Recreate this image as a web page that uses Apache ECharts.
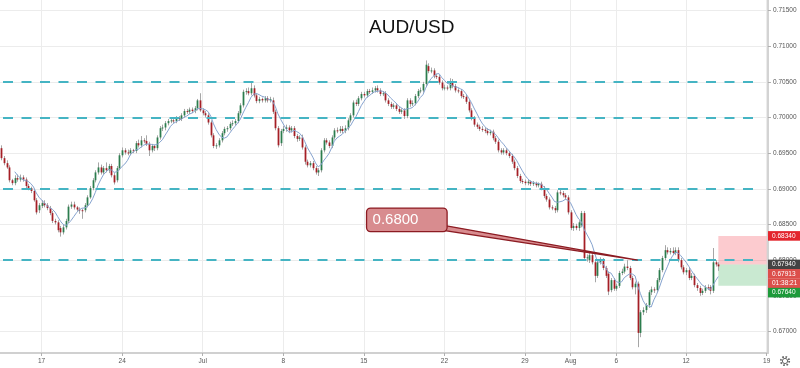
<!DOCTYPE html>
<html><head><meta charset="utf-8">
<script src="https://cdn.jsdelivr.net/npm/echarts@6/dist/echarts.min.js"></script>
<style>html,body{margin:0;padding:0;background:#fff}#c{width:800px;height:368px}</style>
</head><body><div id="c"></div>
<script>
// ---- AUD/USD 4H candles ----
const open = [
0.6957,0.6943,0.6936,0.6930,0.6912,0.6908,0.6915,0.6913,0.6916,0.6913,
0.6904,0.6901,0.6897,0.6884,0.6870,0.6876,0.6880,0.6877,0.6873,0.6866,
0.6855,0.6853,0.6845,0.6839,0.6846,0.6855,0.6875,0.6878,0.6874,0.6871,
0.6870,0.6870,0.6877,0.6888,0.6901,0.6912,0.6923,0.6930,0.6923,0.6929,
0.6926,0.6932,0.6919,0.6912,0.6929,0.6947,0.6954,0.6951,0.6950,0.6954,
0.6953,0.6964,0.6961,0.6968,0.6967,0.6963,0.6954,0.6960,0.6957,0.6972,
0.6985,0.6986,0.6992,0.6995,0.6996,0.6995,0.6999,0.6998,0.7003,0.7009,
0.7008,0.7011,0.7009,0.7013,0.7024,0.7010,0.7006,0.7003,0.6993,0.6975,
0.6960,0.6961,0.6968,0.6978,0.6984,0.6985,0.6991,0.6992,0.6995,0.7006,
0.7017,0.7036,0.7037,0.7034,0.7041,0.7031,0.7023,0.7026,0.7024,0.7027,
0.7024,0.7024,0.7008,0.6985,0.6964,0.6981,0.6984,0.6986,0.6982,0.6985,
0.6974,0.6970,0.6972,0.6958,0.6938,0.6933,0.6936,0.6929,0.6923,0.6926,
0.6954,0.6968,0.6965,0.6960,0.6972,0.6982,0.6981,0.6984,0.6981,0.6985,
0.6996,0.7003,0.7021,0.7019,0.7027,0.7033,0.7031,0.7037,0.7036,0.7038,
0.7041,0.7038,0.7033,0.7034,0.7024,0.7019,0.7015,0.7017,0.7012,0.7008,
0.7010,0.7002,0.7024,0.7019,0.7020,0.7030,0.7037,0.7038,0.7047,0.7072,
0.7065,0.7066,0.7058,0.7057,0.7049,0.7041,0.7042,0.7041,0.7051,0.7044,
0.7038,0.7037,0.7030,0.7029,0.7022,0.7010,0.6999,0.6990,0.6987,0.6984,
0.6983,0.6981,0.6978,0.6980,0.6971,0.6966,0.6954,0.6951,0.6954,0.6950,
0.6946,0.6938,0.6929,0.6918,0.6911,0.6910,0.6908,0.6910,0.6907,0.6908,
0.6905,0.6907,0.6901,0.6890,0.6885,0.6874,0.6873,0.6870,0.6895,0.6894,
0.6891,0.6888,0.6867,0.6845,0.6848,0.6845,0.6849,0.6866,0.6803,0.6800,
0.6807,0.6797,0.6778,0.6797,0.6800,0.6789,0.6781,0.6758,0.6772,0.6760,
0.6764,0.6782,0.6784,0.6791,0.6789,0.6775,0.6762,0.6767,0.6698,0.6727,
0.6730,0.6737,0.6755,0.6759,0.6758,0.6772,0.6786,0.6803,0.6814,0.6811,
0.6813,0.6810,0.6814,0.6800,0.6790,0.6783,0.6786,0.6775,0.6778,0.6765,
0.6761,0.6754,0.6757,0.6762,0.6762,0.6757,0.6797,0.6794];
const high = [
0.6961,0.6946,0.6940,0.6933,0.6914,0.6919,0.6920,0.6920,0.6919,0.6916,
0.6907,0.6903,0.6900,0.6887,0.6880,0.6884,0.6884,0.6880,0.6876,0.6869,
0.6858,0.6856,0.6848,0.6850,0.6858,0.6878,0.6882,0.6882,0.6876,0.6874,
0.6872,0.6880,0.6891,0.6904,0.6915,0.6926,0.6937,0.6934,0.6932,0.6937,
0.6935,0.6935,0.6922,0.6932,0.6950,0.6958,0.6957,0.6955,0.6957,0.6956,
0.6967,0.6969,0.6974,0.6971,0.6975,0.6966,0.6963,0.6962,0.6975,0.6988,
0.6990,0.6995,0.6998,0.6999,0.6999,0.7002,0.7002,0.7006,0.7012,0.7012,
0.7014,0.7014,0.7016,0.7026,0.7034,0.7013,0.7009,0.7006,0.6996,0.6978,
0.6964,0.6971,0.6981,0.6987,0.6988,0.6994,0.6996,0.6998,0.7009,0.7020,
0.7039,0.7041,0.7042,0.7050,0.7045,0.7034,0.7029,0.7028,0.7030,0.7030,
0.7029,0.7028,0.7011,0.6988,0.6984,0.6988,0.6990,0.6989,0.6988,0.6988,
0.6977,0.6975,0.6976,0.6961,0.6941,0.6939,0.6939,0.6932,0.6929,0.6957,
0.6971,0.6971,0.6968,0.6975,0.6985,0.6986,0.6988,0.6988,0.6989,0.6999,
0.7006,0.7024,0.7025,0.7030,0.7036,0.7036,0.7040,0.7040,0.7042,0.7044,
0.7045,0.7041,0.7037,0.7037,0.7027,0.7022,0.7020,0.7020,0.7015,0.7013,
0.7013,0.7027,0.7027,0.7024,0.7033,0.7040,0.7042,0.7050,0.7080,0.7076,
0.7070,0.7069,0.7061,0.7060,0.7052,0.7046,0.7045,0.7055,0.7054,0.7047,
0.7041,0.7040,0.7033,0.7032,0.7025,0.7013,0.7002,0.6993,0.6990,0.6988,
0.6986,0.6985,0.6983,0.6983,0.6974,0.6969,0.6957,0.6957,0.6957,0.6953,
0.6949,0.6941,0.6932,0.6921,0.6914,0.6913,0.6913,0.6912,0.6911,0.6910,
0.6909,0.6910,0.6904,0.6893,0.6888,0.6877,0.6876,0.6898,0.6899,0.6897,
0.6894,0.6891,0.6870,0.6852,0.6851,0.6856,0.6869,0.6869,0.6808,0.6811,
0.6810,0.6800,0.6800,0.6804,0.6803,0.6792,0.6784,0.6775,0.6775,0.6767,
0.6785,0.6788,0.6795,0.6800,0.6792,0.6778,0.6770,0.6770,0.6730,0.6734,
0.6740,0.6758,0.6763,0.6762,0.6775,0.6789,0.6806,0.6821,0.6818,0.6817,
0.6818,0.6818,0.6818,0.6803,0.6793,0.6789,0.6789,0.6782,0.6781,0.6768,
0.6764,0.6760,0.6765,0.6766,0.6765,0.6817,0.6800,0.6797];
const low = [
0.6940,0.6933,0.6928,0.6909,0.6905,0.6905,0.6910,0.6910,0.6910,0.6901,
0.6898,0.6894,0.6882,0.6864,0.6866,0.6873,0.6874,0.6870,0.6863,0.6852,
0.6850,0.6839,0.6833,0.6836,0.6843,0.6852,0.6872,0.6871,0.6868,0.6865,
0.6858,0.6867,0.6874,0.6886,0.6898,0.6909,0.6920,0.6920,0.6920,0.6923,
0.6922,0.6916,0.6906,0.6909,0.6926,0.6944,0.6948,0.6947,0.6947,0.6950,
0.6950,0.6958,0.6958,0.6964,0.6960,0.6946,0.6951,0.6953,0.6954,0.6969,
0.6981,0.6982,0.6989,0.6992,0.6992,0.6992,0.6995,0.6995,0.7000,0.7005,
0.7005,0.7006,0.7006,0.7010,0.7008,0.7003,0.7000,0.6990,0.6972,0.6957,
0.6956,0.6958,0.6965,0.6975,0.6980,0.6982,0.6988,0.6989,0.6992,0.7003,
0.7014,0.7032,0.7031,0.7031,0.7028,0.7020,0.7020,0.7021,0.7021,0.7021,
0.7021,0.7005,0.6982,0.6958,0.6960,0.6978,0.6980,0.6978,0.6979,0.6971,
0.6966,0.6967,0.6955,0.6934,0.6930,0.6930,0.6926,0.6920,0.6918,0.6923,
0.6951,0.6962,0.6957,0.6957,0.6969,0.6978,0.6978,0.6978,0.6978,0.6982,
0.6993,0.7000,0.7016,0.7016,0.7024,0.7028,0.7028,0.7033,0.7033,0.7035,
0.7035,0.7030,0.7030,0.7021,0.7016,0.7012,0.7012,0.7009,0.7005,0.7005,
0.6998,0.6999,0.7015,0.7016,0.7017,0.7027,0.7034,0.7035,0.7044,0.7062,
0.7062,0.7055,0.7054,0.7046,0.7038,0.7038,0.7038,0.7038,0.7041,0.7035,
0.7034,0.7027,0.7026,0.7019,0.7007,0.6996,0.6987,0.6984,0.6981,0.6980,
0.6978,0.6975,0.6975,0.6968,0.6963,0.6951,0.6948,0.6948,0.6947,0.6943,
0.6935,0.6926,0.6915,0.6908,0.6907,0.6905,0.6905,0.6904,0.6904,0.6902,
0.6902,0.6898,0.6887,0.6882,0.6871,0.6870,0.6866,0.6867,0.6891,0.6888,
0.6885,0.6864,0.6842,0.6841,0.6842,0.6841,0.6846,0.6800,0.6798,0.6796,
0.6794,0.6769,0.6775,0.6794,0.6786,0.6775,0.6751,0.6755,0.6757,0.6757,
0.6761,0.6779,0.6781,0.6786,0.6772,0.6759,0.6752,0.6678,0.6692,0.6723,
0.6726,0.6733,0.6751,0.6754,0.6755,0.6769,0.6783,0.6800,0.6808,0.6808,
0.6807,0.6807,0.6797,0.6787,0.6780,0.6779,0.6772,0.6772,0.6762,0.6757,
0.6750,0.6751,0.6754,0.6758,0.6752,0.6754,0.6791,0.6785];
const close = [
0.6943,0.6936,0.6930,0.6912,0.6908,0.6915,0.6913,0.6916,0.6913,0.6904,
0.6901,0.6897,0.6884,0.6867,0.6877,0.6880,0.6877,0.6873,0.6866,0.6855,
0.6853,0.6842,0.6839,0.6846,0.6855,0.6875,0.6878,0.6874,0.6871,0.6870,
0.6869,0.6877,0.6888,0.6901,0.6912,0.6923,0.6930,0.6923,0.6929,0.6926,
0.6932,0.6919,0.6909,0.6929,0.6947,0.6954,0.6951,0.6950,0.6954,0.6953,
0.6964,0.6961,0.6968,0.6967,0.6963,0.6954,0.6960,0.6957,0.6972,0.6985,
0.6986,0.6992,0.6995,0.6996,0.6995,0.6999,0.6998,0.7003,0.7009,0.7008,
0.7011,0.7009,0.7013,0.7024,0.7010,0.7006,0.7003,0.6993,0.6975,0.6960,
0.6961,0.6968,0.6978,0.6984,0.6985,0.6991,0.6992,0.6995,0.7006,0.7017,
0.7036,0.7037,0.7034,0.7041,0.7031,0.7023,0.7026,0.7024,0.7027,0.7024,
0.7026,0.7008,0.6985,0.6961,0.6981,0.6984,0.6986,0.6982,0.6985,0.6974,
0.6970,0.6972,0.6958,0.6938,0.6933,0.6936,0.6929,0.6923,0.6926,0.6954,
0.6968,0.6965,0.6960,0.6972,0.6982,0.6981,0.6984,0.6981,0.6985,0.6996,
0.7003,0.7021,0.7019,0.7027,0.7033,0.7031,0.7037,0.7036,0.7038,0.7041,
0.7038,0.7033,0.7034,0.7024,0.7019,0.7015,0.7017,0.7012,0.7008,0.7010,
0.7002,0.7024,0.7019,0.7020,0.7030,0.7037,0.7038,0.7047,0.7074,0.7065,
0.7066,0.7058,0.7057,0.7049,0.7041,0.7042,0.7041,0.7051,0.7044,0.7038,
0.7037,0.7030,0.7029,0.7022,0.7010,0.6999,0.6990,0.6987,0.6984,0.6983,
0.6981,0.6978,0.6980,0.6971,0.6966,0.6954,0.6951,0.6954,0.6950,0.6946,
0.6938,0.6929,0.6918,0.6911,0.6910,0.6908,0.6910,0.6907,0.6908,0.6905,
0.6907,0.6901,0.6890,0.6885,0.6874,0.6873,0.6870,0.6895,0.6894,0.6891,
0.6888,0.6867,0.6845,0.6848,0.6845,0.6853,0.6866,0.6803,0.6804,0.6807,
0.6797,0.6778,0.6797,0.6800,0.6789,0.6778,0.6756,0.6772,0.6760,0.6764,
0.6782,0.6784,0.6791,0.6789,0.6775,0.6762,0.6767,0.6698,0.6727,0.6730,
0.6737,0.6755,0.6759,0.6758,0.6772,0.6786,0.6803,0.6814,0.6811,0.6813,
0.6810,0.6814,0.6800,0.6790,0.6783,0.6786,0.6775,0.6778,0.6765,0.6761,
0.6754,0.6757,0.6762,0.6761,0.6757,0.6797,0.6794,0.67913];

// x-axis ticks (category index of the bar where each label sits) and their labels
const tickIndex  = [15, 45, 75, 105, 135, 165, 195, 212, 229, 255, 285];
const tickLabels = ['17', '24', 'Jul', '8', '15', '22', '29', 'Aug', '6', '12', '19'];
// horizontal levels drawn on the chart
const levels = [0.705, 0.700, 0.690, 0.680];
// short position tool
const posStop = 0.6834, posEntry = 0.6794, posTarget = 0.6764, posStartBar = 267;
const lastPrice = 0.67913, countdown = '01:38:21';
// callout annotation
const calloutText = '0.6800', calloutAnchorBar = 237, calloutAnchorPrice = 0.6800;
const calloutBoxBars = [136, 166], calloutBoxPrices = [0.6873, 0.6840];
const maPeriod = 6;

// 4-hour bar timestamps (weekdays only), Jun 12 2019 12:00 -> Aug 19 2019
const categories = [];
(function () {
  let t = Date.UTC(2019, 5, 12, 12);
  while (categories.length < 286) {
    const d = new Date(t), wd = d.getUTCDay();
    if (wd !== 0 && wd !== 6) categories.push(d.toISOString().slice(0, 13).replace('T', ' ') + ':00');
    t += 4 * 3600e3;
  }
})();

const candleData = open.map((o, i) => [i, o, close[i], low[i], high[i]]);
const ma = close.map((c, i) => i < maPeriod - 1 ? null :
  close.slice(i - maPeriod + 1, i + 1).reduce((a, b) => a + b, 0) / maPeriod);

const tickSet = new Set(tickIndex);
const isTick = (idx) => tickSet.has(idx);

const FONT = 'Liberation Sans, Arial, sans-serif';
const chart = echarts.init(document.getElementById('c'));

function renderCandle(params, api) {
  const i = api.value(0), o = api.value(1), c = api.value(2), l = api.value(3), h = api.value(4);
  const pO = api.coord([i, o]), pC = api.coord([i, c]);
  const pL = api.coord([i, l]), pH = api.coord([i, h]);
  const w = api.size([1, 0])[0] * 0.66;
  const x = Math.round(pO[0]) + 0.5;
  const up = c >= o;
  const top = Math.min(pO[1], pC[1]);
  const bh = Math.max(Math.abs(pO[1] - pC[1]), 1);
  return {
    type: 'group',
    children: [
      { type: 'line', shape: { x1: x, y1: pH[1], x2: x, y2: pL[1] },
        style: { stroke: '#a6a6a6', lineWidth: 1 } },
      { type: 'rect', shape: { x: x - w / 2, y: top, width: w, height: bh },
        style: { fill: up ? '#2c7d4e' : '#a51f26' } }
    ]
  };
}

chart.setOption({
  animation: false,
  backgroundColor: '#ffffff',
  title: {
    text: 'AUD/USD', left: 364, top: 13,
    textStyle: { fontSize: 19, fontWeight: 'normal', color: '#111', fontFamily: FONT }
  },
  grid: { left: 0, right: 32, top: 0, bottom: 15 },
  xAxis: {
    type: 'category', data: categories, boundaryGap: true,
    axisLine: { lineStyle: { color: '#d0d0d0', width: 2 } },
    axisTick: { show: true, alignWithLabel: true, interval: isTick, length: 3,
      lineStyle: { color: '#b0b0b0' } },
    axisLabel: { interval: isTick, margin: 5, fontSize: 6.5, color: '#555', fontFamily: FONT,
      formatter: (v, idx) => tickLabels[tickIndex.indexOf(idx)] || '' },
    splitLine: { show: true, interval: isTick, alignWithLabel: true,
      lineStyle: { color: '#ececec', width: 1 } }
  },
  yAxis: {
    type: 'value', position: 'right', scale: true,
    min: 0.666984, max: 0.716472, splitNumber: 10, minInterval: 0.005, maxInterval: 0.005,
    axisLine: { show: true, lineStyle: { color: '#c4c4c4', width: 1.5 } },
    axisTick: { show: true, length: 3, lineStyle: { color: '#b0b0b0' } },
    axisLabel: { margin: 5, fontSize: 6.5, color: '#555', fontFamily: FONT,
      showMinLabel: false, showMaxLabel: false, formatter: v => v.toFixed(5) },
    splitLine: { show: true, showMinLine: false, showMaxLine: false,
      lineStyle: { color: '#ececec', width: 1 } }
  },
  series: [
    {
      type: 'custom', name: 'AUD/USD', renderItem: renderCandle, data: candleData,
      encode: { x: 0, y: [1, 2, 3, 4] }, z: 3
    },
    {
      type: 'line', name: 'MA', data: ma, showSymbol: false, silent: true, z: 4,
      lineStyle: { color: '#86a3cf', width: 1 },
      markLine: {
        silent: true, symbol: ['none', 'none'], label: { show: false },
        lineStyle: { color: '#45b4c3', type: [10, 8.5], width: 1.8 },
        data: levels.map(v => [{ x: 3, yAxis: v }, { x: 758, yAxis: v }])
      },
      markArea: {
        silent: true,
        data: [
          [{ xAxis: categories[posStartBar], yAxis: posStop, itemStyle: { color: 'rgba(242,54,69,0.26)' } },
           { xAxis: categories[285], yAxis: posEntry }],
          [{ xAxis: categories[posStartBar], yAxis: posEntry, itemStyle: { color: 'rgba(8,153,46,0.22)' } },
           { xAxis: categories[285], yAxis: posTarget }]
        ]
      }
    }
  ]
});

// ---- overlays positioned through the chart's own scales ----
const toPx = (bar, price) => chart.convertToPixel({ xAxisIndex: 0, yAxisIndex: 0 }, [categories[bar], price]);
const gridRight = 768;
const g = [];

// callout
const tl = toPx(calloutBoxBars[0], calloutBoxPrices[0]);
const br = toPx(calloutBoxBars[1], calloutBoxPrices[1]);
const tip = toPx(calloutAnchorBar, calloutAnchorPrice);
g.push({ type: 'polygon', z: 50,
  shape: { points: [[br[0] - 2, br[1] - 6], tip, [br[0] - 2, br[1] - 1]] },
  style: { fill: '#d88c8f', stroke: '#8c1b22', lineWidth: 1.2 } });
g.push({ type: 'rect', z: 51,
  shape: { x: tl[0], y: tl[1], width: br[0] - tl[0], height: br[1] - tl[1], r: 4 },
  style: { fill: '#d88c8f', stroke: '#8c1b22', lineWidth: 1.3 } });
g.push({ type: 'text', z: 52, x: tl[0] + 6, y: (tl[1] + br[1]) / 2,
  style: { text: calloutText, fill: '#ffffff', fontSize: 15, fontFamily: FONT, verticalAlign: 'middle' } });

// right-side price labels
const yPx = p => chart.convertToPixel({ yAxisIndex: 0 }, p);
const tags = [
  { y: yPx(posStop), text: posStop.toFixed(5), bg: '#e3252d' },
  { y: yPx(posEntry), text: posEntry.toFixed(5), bg: '#434343' },
  { y: yPx(lastPrice), text: lastPrice.toFixed(5), bg: '#dc4f4b' },
  { y: null, text: countdown, bg: '#dc4f4b' },
  { y: yPx(posTarget), text: posTarget.toFixed(5), bg: '#1d9a3a' }
];
let prev = -1e9;
tags.forEach(t => {
  let y = t.y == null ? prev + 9.4 : Math.max(t.y, prev + 9.4);
  prev = y;
  g.push({ type: 'rect', z: 60, shape: { x: gridRight, y: y - 4.8, width: 32, height: 9.6 },
    style: { fill: t.bg } });
  g.push({ type: 'text', z: 61, x: gridRight + 4, y: y,
    style: { text: t.text, fill: '#fff', fontSize: 6.5, fontFamily: FONT, verticalAlign: 'middle' } });
});

// settings gear
g.push({ type: 'circle', z: 60, shape: { cx: 785, cy: 361, r: 4.2 },
  style: { fill: 'none', stroke: '#666', lineWidth: 1.8, lineDash: [1.6, 1.7] } });
g.push({ type: 'circle', z: 60, shape: { cx: 785, cy: 361, r: 2.6 },
  style: { fill: 'none', stroke: '#666', lineWidth: 1 } });

chart.setOption({ graphic: g });
</script>
</body></html>
